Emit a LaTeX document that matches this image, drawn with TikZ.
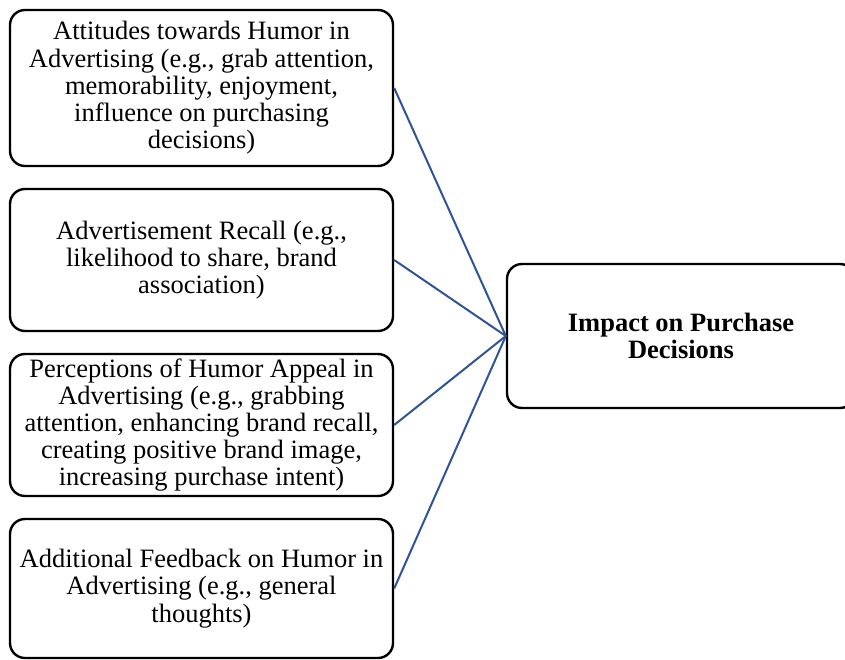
\documentclass[tikz,border=0pt]{standalone}
\usepackage{fontspec}
\setmainfont{Liberation Serif}
\definecolor{linkblue}{RGB}{47,84,150}
\begin{document}
\begin{tikzpicture}[x=1pt,y=-1pt,
  box/.style={draw=black,line width=2.4pt,rounded corners=15pt,align=center,
    font=\fontsize{26.5}{27.2}\selectfont,inner sep=0pt},
  link/.style={draw=linkblue,line width=2pt}]
\clip (0,0) rectangle (845,660);
\path[use as bounding box] (0,0) rectangle (845,660);
\node[box,minimum width=383pt,minimum height=156pt] (a) at (201.5,88)
  {Attitudes towards Humor in\\Advertising (e.g., grab attention,\\memorability, enjoyment,\\influence on purchasing\\decisions)};
\node[box,minimum width=383pt,minimum height=142pt] (b) at (201.5,260)
  {Advertisement Recall (e.g.,\\likelihood to share, brand\\association)};
\node[box,minimum width=383pt,minimum height=142pt] (c) at (201.5,425)
  {Perceptions of Humor Appeal in\\Advertising (e.g., grabbing\\attention, enhancing brand recall,\\creating positive brand image,\\increasing purchase intent)};
\node[box,minimum width=383pt,minimum height=139pt] (d) at (201.5,588.5)
  {Additional Feedback on Humor in\\Advertising (e.g., general\\thoughts)};
\node[box,minimum width=348pt,minimum height=144pt,font=\fontsize{26.5}{27.2}\selectfont\bfseries] (e) at (681,336)
  {Impact on Purchase\\Decisions};
\foreach \n in {a,b,c,d} \draw[link] (\n.east) -- (e.west);
\end{tikzpicture}
\end{document}
